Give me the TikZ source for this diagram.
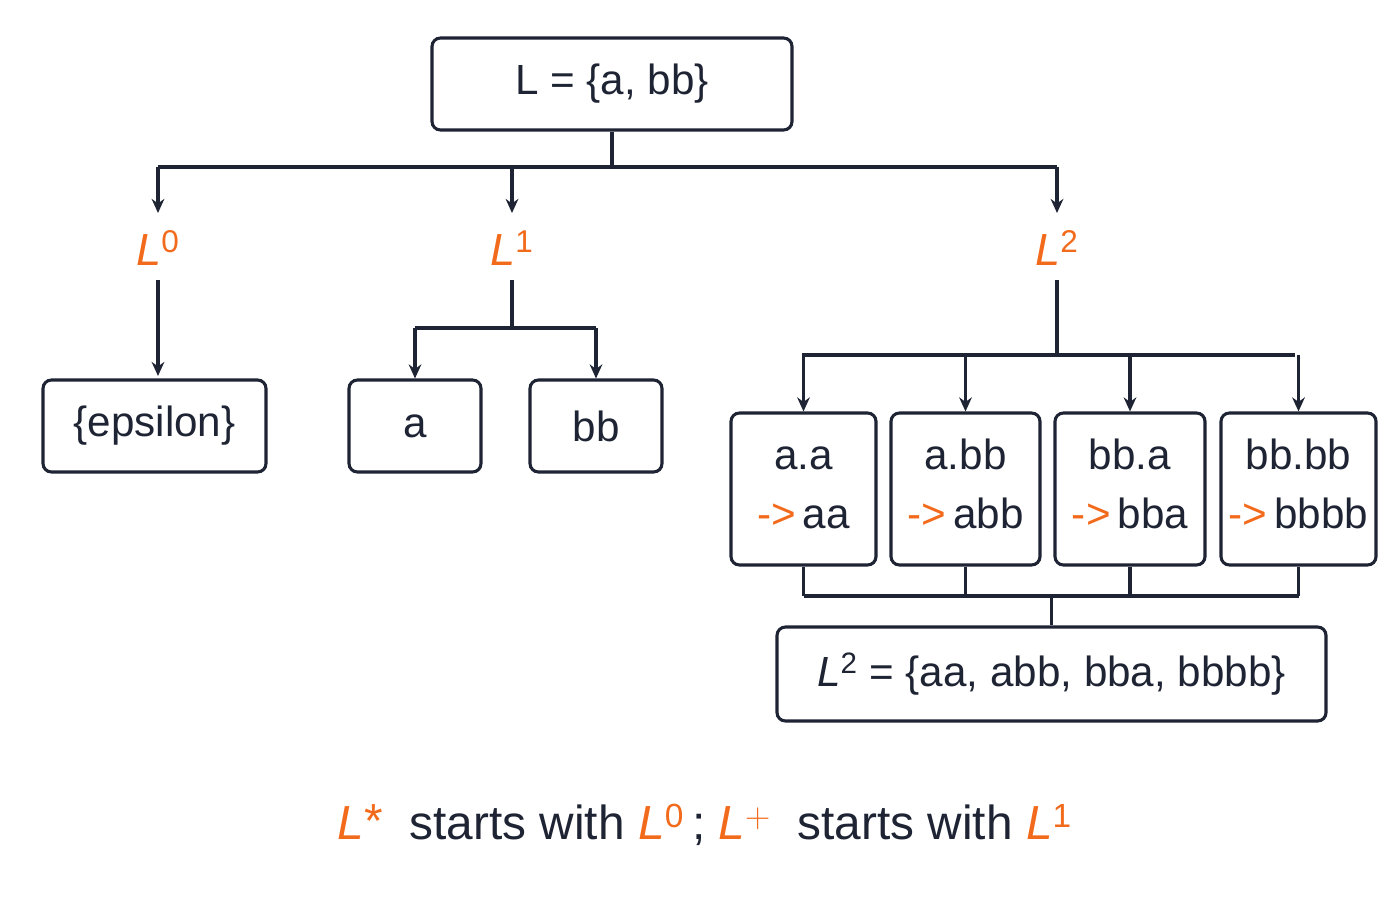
\documentclass[tikz,border=0pt]{standalone}
\usepackage{fontspec}
\setmainfont{Liberation Sans}
\usetikzlibrary{arrows.meta}
\definecolor{ink}{HTML}{1E2433}
\definecolor{hot}{HTML}{F26A1B}
\newcommand{\Lp}[1]{\textcolor{hot}{\textit{L}$^{\mathrm{#1}}$}}
\begin{document}
\begin{tikzpicture}[x=0.025cm, y=-0.025cm, font=\fontsize{30}{36}\selectfont, text=ink]
    \tikzset{
        box/.style={rectangle, draw=ink, line width=2.2pt, rounded corners=6pt, inner sep=0pt},
        wire/.style={draw=ink, line width=2.2pt},
        arr/.style={wire, -{Stealth[length=10pt, width=9pt]}},
        lbl/.style={text=hot, font=\fontsize{32}{36}\selectfont}
    }
    \useasboundingbox (0,0) rectangle (1400,900);

    % root
    \node[box, minimum width=360*0.025cm, minimum height=92*0.025cm] (root) at (612,84) {L = \{a, bb\}};

    % levels
    \node[lbl] (l0) at (158,248) {\textit{L}$^{\mathrm{0}}$};
    \node[lbl] (l1) at (512,248) {\textit{L}$^{\mathrm{1}}$};
    \node[lbl] (l2) at (1057,248) {\textit{L}$^{\mathrm{2}}$};

    % level 0 and 1
    \node[box, minimum width=223*0.025cm, minimum height=92*0.025cm] (eps) at (154.5,426) {\{epsilon\}};
    \node[box, minimum width=132*0.025cm, minimum height=92*0.025cm] (a) at (415,426) {a};
    \node[box, minimum width=132*0.025cm, minimum height=92*0.025cm] (bb) at (596,426) {bb};

    % level 2 products
    \foreach \nm/\cx/\w/\top/\res in {p1/803.5/145/a.a/aa, p2/965.5/149/a.bb/abb, p3/1130/150/bb.a/bba, p4/1298.5/155/bb.bb/bbbb}
        \node[box, minimum width=\w*0.025cm, minimum height=152*0.025cm, align=center] (\nm) at (\cx,489)
            {\strut\top\\[6pt]\strut\textcolor{hot}{->}\,\res};

    \node[box, minimum width=549*0.025cm, minimum height=94*0.025cm] (set) at (1051.5,674)
        {\textit{L}$^{\mathrm{2}}$ = \{aa, abb, bba, bbbb\}};

    % caption
    \node[font=\fontsize{34}{40}\selectfont] (cap) at (705,825)
        {\textcolor{hot}{\textit{L}\raisebox{2pt}{*}}\ \ starts with \Lp{0}\,; \textcolor{hot}{\textit{L}$^{+}$}\ \ starts with \Lp{1}};

    % top bus
    \coordinate (t0) at (158,167);
    \coordinate (t2) at (1057,167);
    \draw[wire] (root.south) -- (root.south |- t0);
    \draw[wire] (t0) -- (t2);
    \draw[arr] (t0) -- ++(0,46);
    \draw[arr] (512,167) -- ++(0,46);
    \draw[arr] (t2) -- ++(0,46);

    % level wires
    \draw[arr] (158,280) -- (158,376);
    \draw[wire] (512,280) -- (512,328);
    \draw[wire] (415,328) -- (596,328);
    \draw[arr] (415,328) -- (a.north);
    \draw[arr] (596,328) -- (bb.north);
    \draw[wire] (1057,280) -- (1057,355);
    \draw[wire] (802,355) -- (1295,355);
    \foreach \nm in {p1, p2, p3, p4}
        \draw[arr] (\nm.north |- 0,355) -- (\nm.north);

    % join
    \foreach \nm in {p1, p2, p3, p4}
        \draw[wire] (\nm.south) -- (\nm.south |- 0,596);
    \draw[wire] (p1.south |- 0,596) -- (p4.south |- 0,596);
    \draw[wire] (set.north |- 0,596) -- (set.north);
\end{tikzpicture}
\end{document}
